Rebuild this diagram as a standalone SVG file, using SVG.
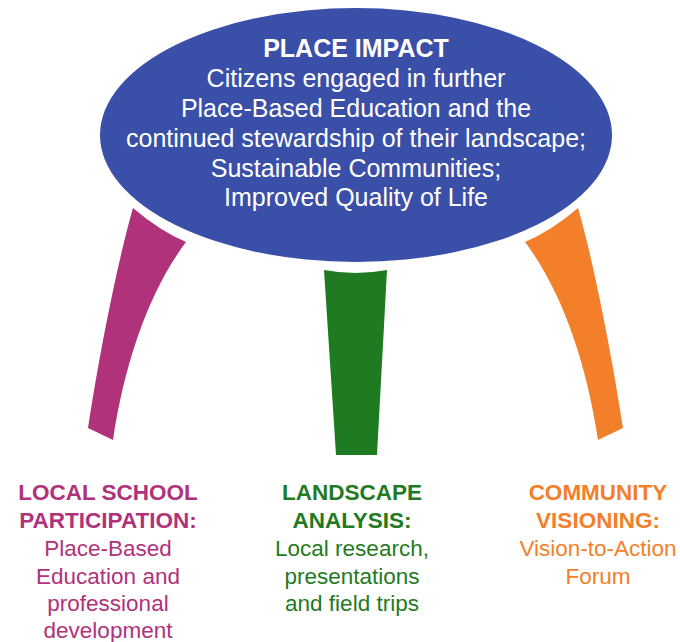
<svg xmlns="http://www.w3.org/2000/svg" width="680" height="642" viewBox="0 0 680 642">
<style>
.t{font-family:"Liberation Sans",Arial,sans-serif;text-anchor:middle}
.top{font-size:25px;fill:#ffffff}
.lab{font-size:22.5px}
.b{font-weight:bold}
.m{fill:#b0327a}.g{fill:#1f7a22}.o{fill:#f47f2b}
</style>
<rect width="680" height="642" fill="#ffffff"/>
<g id="connectors">
<path id="leg-school" d="M133,208 Q160,231 186,242 C150,290 125,360 113,440 L88,428 C100,350 118,260 133,208 Z" fill="#b0327a"/>
<path id="leg-landscape" d="M324,270 Q355.5,276 387,270 L377,455 L336,455 Z" fill="#1e7b22"/>
<path id="leg-community" d="M578,208 Q551,231 525,242 C561,290 586,360 598,440 L623,428 C611,350 593,260 578,208 Z" fill="#f47f2b"/>
</g>
<g id="place-impact">
<ellipse cx="356" cy="135" rx="256" ry="127" fill="#3a4fa8"/>
<text class="t top b" x="356" y="57">PLACE IMPACT</text>
<text class="t top" x="356" y="87">Citizens engaged in further</text>
<text class="t top" x="356" y="117">Place-Based Education and the</text>
<text class="t top" x="356" y="147">continued stewardship of their landscape;</text>
<text class="t top" x="356" y="177">Sustainable Communities;</text>
<text class="t top" x="356" y="206">Improved Quality of Life</text>
</g>
<g id="local-school">
<text class="t lab b m" x="108" y="500">LOCAL SCHOOL</text>
<text class="t lab b m" x="108" y="528">PARTICIPATION:</text>
<text class="t lab m" x="108" y="556">Place-Based</text>
<text class="t lab m" x="108" y="584">Education and</text>
<text class="t lab m" x="108" y="611">professional</text>
<text class="t lab m" x="108" y="638">development</text>
</g>
<g id="landscape-analysis">
<text class="t lab b g" x="352" y="500">LANDSCAPE</text>
<text class="t lab b g" x="352" y="528">ANALYSIS:</text>
<text class="t lab g" x="352" y="556">Local research,</text>
<text class="t lab g" x="352" y="584">presentations</text>
<text class="t lab g" x="352" y="611">and field trips</text>
</g>
<g id="community-visioning">
<text class="t lab b o" x="598" y="500">COMMUNITY</text>
<text class="t lab b o" x="598" y="528">VISIONING:</text>
<text class="t lab o" x="598" y="556">Vision-to-Action</text>
<text class="t lab o" x="598" y="584">Forum</text>
</g>
</svg>
